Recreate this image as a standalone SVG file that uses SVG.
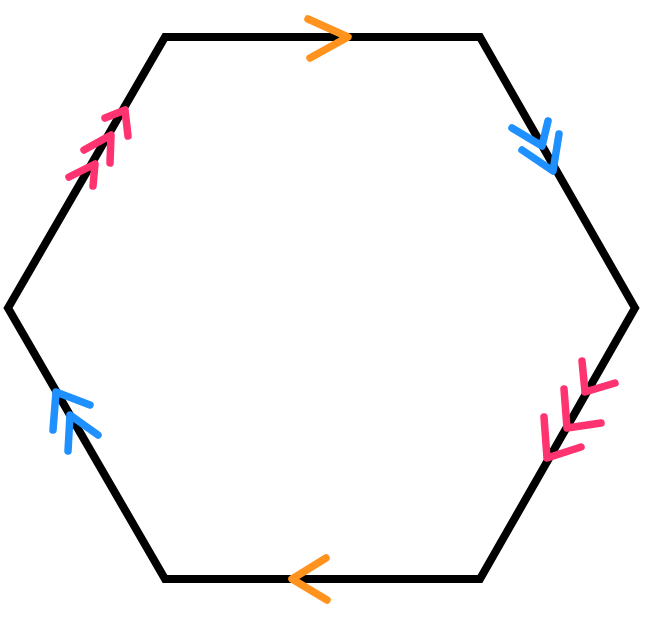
<svg xmlns="http://www.w3.org/2000/svg" width="648" height="633" viewBox="0 0 648 633">
<style>
.edge{fill:none;stroke:#000;stroke-width:8;stroke-linejoin:miter}
.ch{fill:none;stroke-width:7.5;stroke-linecap:round;stroke-linejoin:round}
.o{stroke:#ff931e}
.b{stroke:#1e90ff}
.p{stroke:#ff3370}
</style>
<rect width="648" height="633" fill="#fff"/>
<g id="hexagon">
<polygon class="edge" points="165,37 480,37 635,308 480,579 165,579 8,308"/>
</g>
<g id="marks">
<polyline class="ch o" points="308,19 348,37 310,58"/>
<polyline class="ch o" points="326,558 292,579 327,600"/>
<polyline class="ch b" points="512,128 542,146 548,121"/>
<polyline class="ch b" points="522,150 553,171 559,134"/>
<polyline class="ch b" points="53,430 56,392 90,405"/>
<polyline class="ch b" points="68,451 70,415 98,435"/>
<polyline class="ch p" points="582,361 585,392 615,383"/>
<polyline class="ch p" points="564,389 567,428 601,423"/>
<polyline class="ch p" points="544,417 547,458 581,447"/>
<polyline class="ch p" points="105,118 125,110 128,136"/>
<polyline class="ch p" points="84,150 111,135 110,163"/>
<polyline class="ch p" points="69,177 95,164 93,186"/>
</g>
</svg>
